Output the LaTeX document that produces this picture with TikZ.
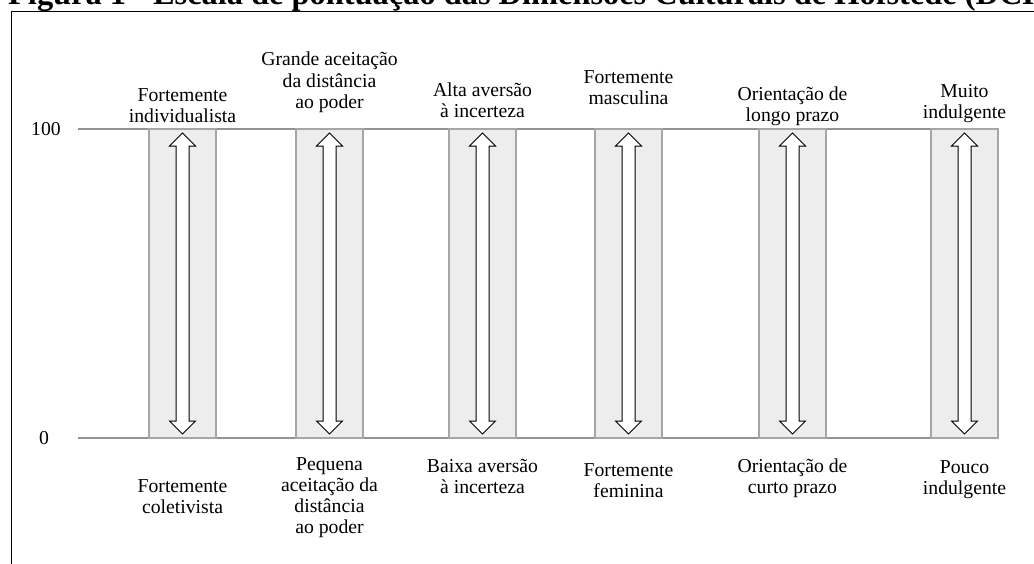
\documentclass[tikz,border=0pt]{standalone}
\usepackage{fontspec}
\setmainfont{Liberation Serif}
\usetikzlibrary{shapes.arrows,positioning}

\begin{document}
\begin{tikzpicture}[x=1pt,y=-1pt,
    bar/.style={draw=gray!70,fill=gray!14,line width=1.3pt,inner sep=0pt,
                minimum width=67pt,minimum height=309pt},
    scale arrow/.style={shape=double arrow,draw=black,fill=white,line width=1pt,
                rotate=90,inner xsep=0pt,inner ysep=6pt,minimum height=301pt,
                double arrow head extend=6.5pt},
    level/.style={draw=gray!85,line width=1.3pt},
    lbl/.style={align=center,inner sep=0pt,font=\fontsize{19.7}{21.2}\selectfont}]

  \useasboundingbox (0,0) rectangle (1034,563);
  \clip (0,0) rectangle (1034,563);

  % title and frame
  \node[anchor=base west,inner sep=0pt,font=\bfseries\fontsize{32.4}{34}\selectfont] (title) at (8,4.5)
    {Figura 1 - Escala de pontuação das Dimensões Culturais de Hofstede (DCH)};
  \draw[line width=1pt] (11,575) -- (11,11) -- (1045,11);

  % scale values
  \node[lbl] (v100) at (46,129) {100};
  \node[lbl] (v0) at (44,438) {0};
  \coordinate (s100) at (78,129);
  \coordinate (s0) at (78,438);

  % bars
  \node[bar] (b1) at (182.5,283.5) {};
  \node[bar] (b2) at (329.5,283.5) {};
  \node[bar] (b3) at (482.5,283.5) {};
  \node[bar] (b4) at (628.5,283.5) {};
  \node[bar] (b5) at (792.5,283.5) {};
  \node[bar] (b6) at (964.5,283.5) {};

  \draw[level] (s100) -- (s100 -| b6.east);
  \draw[level] (s0) -- (s0 -| b6.east);

  \node[bar] at (b1) {}; \node[bar] at (b2) {}; \node[bar] at (b3) {};
  \node[bar] at (b4) {}; \node[bar] at (b5) {}; \node[bar] at (b6) {};

  \node[scale arrow] (a1) at (b1) {};
  \node[scale arrow] (a2) at (b2) {};
  \node[scale arrow] (a3) at (b3) {};
  \node[scale arrow] (a4) at (b4) {};
  \node[scale arrow] (a5) at (b5) {};
  \node[scale arrow] (a6) at (b6) {};

  % upper ends
  \node[lbl] (t1) at ([yshift=23pt]b1.north) {Fortemente\\individualista};
  \node[lbl] (t2) at ([yshift=46pt]b2.north) {Grande aceitação\\da distância\\ao poder};
  \node[lbl] (t3) at ([yshift=28pt]b3.north) {Alta aversão\\à incerteza};
  \node[lbl] (t4) at ([yshift=41pt]b4.north) {Fortemente\\masculina};
  \node[lbl] (t5) at ([yshift=22pt]b5.north) {Orientação de\\longo prazo};
  \node[lbl] (t6) at ([yshift=25pt]b6.north) {Muito\\indulgente};

  % lower ends
  \node[lbl] (u1) at ([yshift=-58pt]b1.south) {Fortemente\\coletivista};
  \node[lbl] (u2) at ([yshift=-59pt]b2.south) {Pequena\\aceitação da\\distância\\ao poder};
  \node[lbl] (u3) at ([yshift=-38pt]b3.south) {Baixa aversão\\à incerteza};
  \node[lbl] (u4) at ([yshift=-42pt]b4.south) {Fortemente\\feminina};
  \node[lbl] (u5) at ([yshift=-40pt]b5.south) {Orientação de\\curto prazo};
  \node[lbl] (u6) at ([yshift=-41pt]b6.south) {Pouco\\indulgente};
\end{tikzpicture}
\end{document}
